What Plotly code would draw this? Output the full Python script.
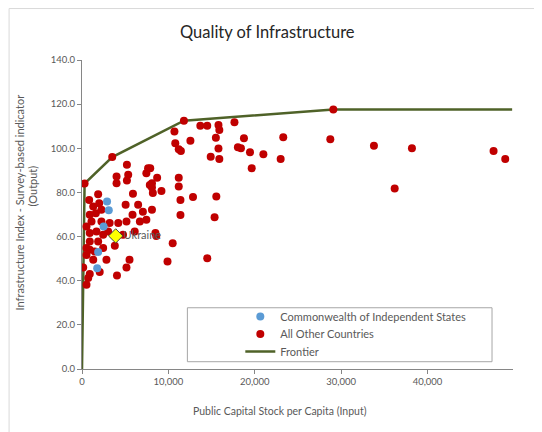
import plotly.graph_objects as go

# ---------------- data ----------------
cis_x = [2900, 3100, 2500, 1870, 1760]
cis_y = [75.9, 71.9, 64.6, 53.0, 45.7]

other_x = [300, 3500, 11800, 29100,
           13700, 14500, 15800, 15900, 17650, 10700, 12550, 15500, 18750, 23300, 28750,
           10800, 11200, 11450, 15800, 18050, 18400, 19450, 21000, 14900, 15900, 23000,
           19650, 33800, 38200, 36200, 47650, 49000, 7900, 8700, 8100, 8100, 9200,
           11200, 11200, 11400, 12850, 15550, 8100, 11400, 15350, 8600, 10500, 9900,
           14500,
           5200, 5350, 4000, 4000, 5200, 7450, 7650, 7850, 5900, 8200, 830, 1870,
           1990, 1300, 1600, 2250, 900, 5050, 6500, 5850, 7050, 1100, 2250, 520,
           3200, 4200, 5150, 6700, 7450, 900, 1680, 2450, 3030, 4750, 6100, 900,
           1870, 3800, 520, 2450,
           900, 1480, 520, 1300, 2830, 5500, 5150, 140, 2050, 900, 4050, 720, 520,
           8500]
other_y = [84.0, 96.0, 112.5, 117.6,
           110.2, 110.2, 110.6, 108.3, 111.8, 107.6, 103.4, 104.8, 104.6, 105.0, 104.1,
           102.3, 99.6, 98.8, 99.9, 100.5, 100.0, 98.2, 97.3, 96.2, 95.1, 95.1,
           91.0, 101.1, 100.0, 81.8, 98.8, 95.1, 91.0, 86.7, 84.2, 82.2, 80.7,
           86.7, 82.7, 76.6, 77.9, 78.1, 72.1, 69.8, 68.8, 60.3, 57.0, 48.7,
           50.2,
           92.5, 88.0, 87.2, 84.2, 85.4, 88.7, 91.0, 83.4, 79.4, 79.7, 76.6, 79.2,
           75.1, 73.6, 70.6, 72.1, 69.9, 74.4, 74.4, 69.9, 71.3, 66.8, 66.8, 64.6,
           66.1, 66.1, 66.8, 66.8, 67.6, 61.6, 62.3, 60.8, 62.3, 60.8, 62.3, 57.8,
           57.8, 55.8, 54.8, 54.8,
           54.0, 53.2, 51.7, 49.5, 49.5, 49.5, 46.0, 46.0, 43.9, 43.0, 42.4, 41.2, 38.2,
           61.6]

frontier_x = [0, 300, 3500, 11800, 29100, 49800]
frontier_y = [0, 84.0, 96.0, 112.5, 117.6, 117.6]

ukraine_x = [3900]
ukraine_y = [60.3]
ukraine_label = ["Ukraine"]

y_ticks = [0, 20, 40, 60, 80, 100, 120, 140]
x_ticks = [0, 10000, 20000, 30000, 40000]

# ---------------- figure ----------------
OFF = 8  # page body margin
W, H = 542 - OFF, 432 - OFF
# plot area in page pixels
L, R, T, B = 81.5, 513.0, 60.0, 369.3
FONT = "Lato, Carlito, Calibri, sans-serif"
GRAY = "#595959"


def px(xp):
    return (xp - L) / (R - L)


def py(yp):
    return (B - yp) / (B - T)


fig = go.Figure()

fig.add_trace(go.Scatter(
    x=frontier_x, y=frontier_y, mode="lines", name="Frontier",
    line=dict(color="#4F6228", width=2.5), legend="legend3"))

fig.add_trace(go.Scatter(
    x=other_x, y=other_y, mode="markers", name="All Other Countries",
    marker=dict(color="#C00000", size=8, line=dict(width=0)), legend="legend2"))

fig.add_trace(go.Scatter(
    x=cis_x, y=cis_y, mode="markers", name="Commonwealth of Independent States",
    marker=dict(color="#5B9BD5", size=8, line=dict(width=0)), legend="legend"))

fig.add_trace(go.Scatter(
    x=ukraine_x, y=ukraine_y, mode="markers+text", text=ukraine_label,
    textposition="middle right", showlegend=False,
    textfont=dict(family=FONT, size=11, color=GRAY),
    marker=dict(symbol="diamond", color="#FFFF00", size=11,
                line=dict(color="#404040", width=1))))

axis_common = dict(
    showgrid=False, zeroline=False, showline=True, linecolor="#868686",
    linewidth=1, ticks="outside", ticklen=4, tickcolor="#868686",
    tickfont=dict(family=FONT, size=9.5, color=GRAY), fixedrange=True)

fig.update_xaxes(range=[0, 49900], tickvals=x_ticks, tickformat=",d", **axis_common)
fig.update_yaxes(range=[0, 140], tickvals=y_ticks, tickformat=".1f", **axis_common)

shapes = [
    # chart-area border (top and left visible)
    dict(type="rect", xref="paper", yref="paper",
         x0=px(OFF + 0.5), x1=px(560), y0=py(450), y1=py(OFF + 0.5),
         line=dict(color="#D9D9D9", width=1), fillcolor="rgba(0,0,0,0)", layer="below"),
    # legend box
    dict(type="rect", xref="paper", yref="paper",
         x0=px(187), x1=px(492), y0=py(362), y1=py(308),
         line=dict(color="#A6A6A6", width=1), fillcolor="white", layer="above"),
]

annotations = [
    dict(text="Quality of Infrastructure", xref="paper", yref="paper",
         x=px(267), y=py(32), showarrow=False, xanchor="center", yanchor="middle",
         font=dict(family=FONT, size=16.5, color="#262626")),
    dict(text="Infrastructure Index - Survey-based indicator", xref="paper", yref="paper",
         x=px(19), y=py(203), showarrow=False, textangle=-90,
         xanchor="center", yanchor="middle",
         font=dict(family=FONT, size=11, color=GRAY)),
    dict(text="(Output)", xref="paper", yref="paper",
         x=px(32), y=py(186), showarrow=False, textangle=-90,
         xanchor="center", yanchor="middle",
         font=dict(family=FONT, size=11, color=GRAY)),
    dict(text="Public Capital Stock per Capita (Input)", xref="paper", yref="paper",
         x=px(280), y=py(411), showarrow=False, xanchor="center", yanchor="middle",
         font=dict(family=FONT, size=10.5, color=GRAY)),
]

leg_common = dict(xanchor="left", yanchor="middle", bgcolor="rgba(0,0,0,0)",
                  borderwidth=0, font=dict(family=FONT, size=11, color=GRAY),
                  itemwidth=30)

fig.update_layout(
    width=W, height=H,
    margin=dict(l=L - OFF, r=542 - R, t=T - OFF, b=432 - B, pad=0),
    paper_bgcolor="white", plot_bgcolor="white",
    shapes=shapes, annotations=annotations,
    showlegend=True,
    legend=dict(x=px(240), y=py(316.7), **leg_common),
    legend2=dict(x=px(240), y=py(334.2), **leg_common),
    legend3=dict(x=px(240), y=py(351.7), **leg_common),
)

fig.write_html("out.html")
